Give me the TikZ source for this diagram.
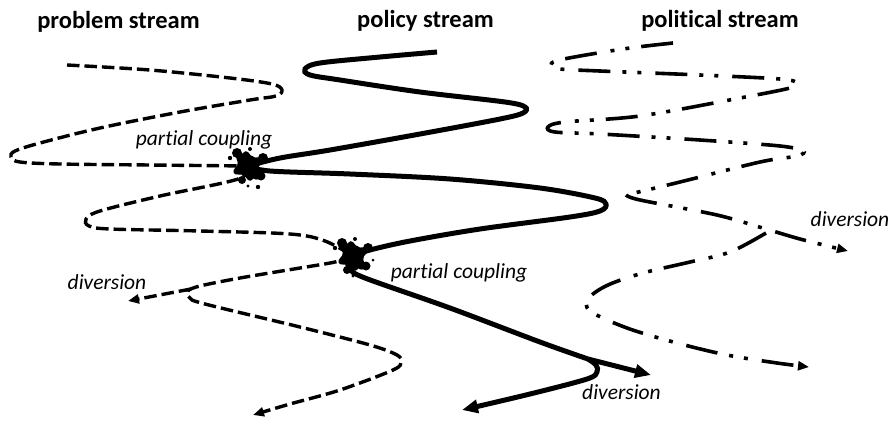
\documentclass[tikz,border=0pt]{standalone}
\usepackage{fontspec}
\setmainfont[Ligatures=NoCommon]{Carlito}
\usetikzlibrary{arrows.meta}
\tikzset{
  problem/.style={line width=3.4pt, dash pattern=on 12.5pt off 5pt},
  policy/.style={line width=5pt},
  political/.style={line width=3.6pt, dash pattern=on 32pt off 12pt on 4pt off 11pt on 4pt off 14pt},
  title/.style={font=\bfseries\fontsize{24.5}{28}\selectfont, anchor=base, inner sep=0pt},
  tag/.style={font=\itshape\fontsize{21.5}{25}\selectfont, anchor=base, inner sep=0pt},
  smalltip/.style={-{Triangle[length=11pt,width=9pt]}},
  bigtip/.style={-{Triangle[length=16pt,width=13pt]}},
  splat/.pic={
    \fill (0,0) circle (11);
    \fill[rotate=-50] (0,0) ellipse (17 and 6.5);
    \fill[rotate=25] (0,0) ellipse (16 and 6);
    \fill[rotate=100] (0,0) ellipse (15 and 6);
    \fill (-11,-13) circle (5);
    \fill (15,-8) circle (5);
    \fill (13,10) circle (4.5);
    \fill (-6,14) circle (4);
    \fill (-18,-8) circle (2.2);
    \fill (2,-17) circle (2);
    \fill (0,20) circle (1.7);
    \fill (10,21) circle (2.2);
    \fill (20,4) circle (1.5);
  }
}
\begin{document}
\begin{tikzpicture}[x=1pt,y=-1pt]
\useasboundingbox (0,0) rectangle (892,424);

% titles
\node[title] (tprob) at (118.5,28) {problem stream};
\node[title] (tpol) at (425.5,27) {policy stream};
\node[title] (tpolit) at (720,27) {political stream};

% key points
\coordinate (p0) at (67,65);
\coordinate (c1) at (248,166);
\coordinate (c2) at (353,256);
\coordinate (pj) at (191,289);
\coordinate (pdiv) at (128,301);
\coordinate (pend) at (253,415);

\coordinate (s0) at (437,52);
\coordinate (sp) at (588,359);
\coordinate (sdivA) at (651,375);
\coordinate (sdivB) at (462,410);

\coordinate (q0) at (673,43);
\coordinate (qv) at (626,195);
\coordinate (qx) at (766,233);
\coordinate (qdivA) at (848,251);
\coordinate (qdivB) at (809,367);

% problem stream (dashed)
\draw[problem] plot[smooth, tension=0.55] coordinates {
  (p0) (150,70) (230,78) (272,84) (282,90) (276,96) (250,100) (180,112)
  (100,128) (40,143) (15,151) (11,157) (20,162) (60,164) (150,165) (c1)};
\draw[problem] plot[smooth, tension=0.55] coordinates {
  (c1) (238,179) (160,196) (100,211) (86,219) (89,226) (110,229)
  (200,231) (290,234) (325,241) (c2)};
\draw[problem, smalltip] plot[smooth, tension=0.55] coordinates {
  (c2) (335,262) (300,268) (240,278) (200,286) (188,291) (190,298)
  (205,304) (300,327) (370,345) (397,355) (401,362) (393,370)
  (340,390) (290,404) (pend)};
\draw[problem, smalltip] (pj) -- (pdiv);

% policy stream (solid)
\draw[policy] plot[smooth, tension=0.55] coordinates {
  (s0) (380,57) (320,63) (305,69) (310,75) (340,80) (420,92) (505,102)
  (525,107) (523,113) (500,119) (420,134) (330,150) (280,158) (c1)};
\draw[policy] plot[smooth, tension=0.55] coordinates {
  (c1) (270,171) (350,174) (450,179) (540,188) (595,198) (606,204)
  (600,211) (570,217) (480,229) (410,241) (370,250) (c2)};
\draw[policy] plot[smooth, tension=0.55] coordinates {
  (c2) (348,262) (350,269) (365,278) (450,308) (540,342) (sp)};
\draw[policy, bigtip] (sp) -- (sdivA);
\draw[policy, bigtip] plot[smooth, tension=0.55] coordinates {
  (sp) (596,365) (597,372) (587,379) (530,394) (sdivB)};

% political stream (dash-dot-dot)
\draw[political] plot[smooth, tension=0.55] coordinates {
  (q0) (630,48) (580,56) (556,61) (551,65) (560,69) (600,71) (700,75)
  (780,79) (797,83) (790,88) (740,98) (640,116) (565,122) (548,127)
  (555,132) (600,134) (700,140) (780,146) (803,151) (797,156)
  (760,162) (680,182) (qv)};
\draw[political, smalltip] plot[smooth, tension=0.5] coordinates {
  (qv) (640,200) (717,215) (766,229) (800,239) (qdivA)};
\draw[political, smalltip] plot[smooth, tension=0.55] coordinates {
  (qx) (730,252) (690,262) (643,273) (608,285) (589,298) (590,311)
  (627,328) (677,343) (727,355) (777,363) (qdivB)};

% coupling splashes
\pic at (c1) {splat};
\pic at (c2) {splat};

% labels
\node[tag] (lc1) at (204,145) {partial coupling};
\node[tag] (lc2) at (459,278) {partial coupling};
\node[tag] (ld1) at (107,289) {diversion};
\node[tag] (ld2) at (621.5,399) {diversion};
\node[tag] (ld3) at (850,226) {diversion};
\end{tikzpicture}
\end{document}
